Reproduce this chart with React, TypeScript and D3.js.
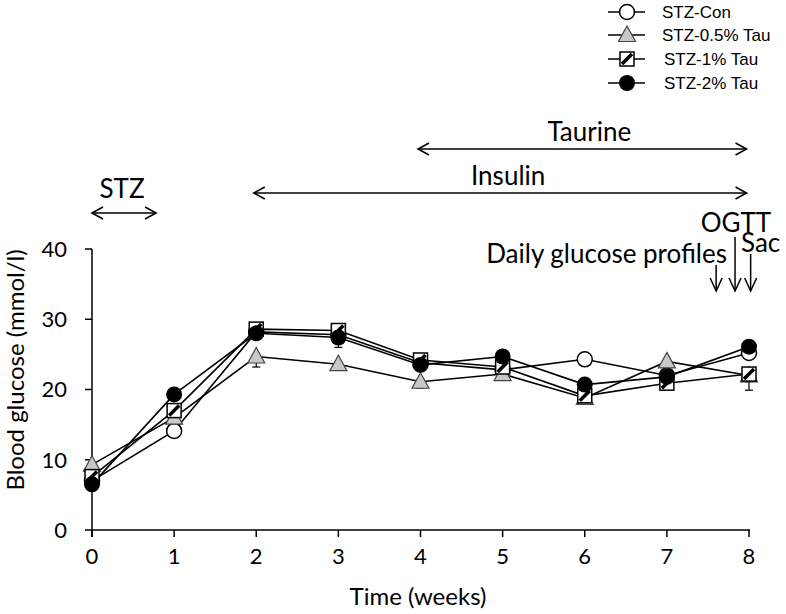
import React from "react";
import * as d3 from "d3";

const weeks = [0, 1, 2, 3, 4, 5, 6, 7, 8];
const seriesNames = ["STZ-Con", "STZ-0.5% Tau", "STZ-1% Tau", "STZ-2% Tau"];
const conValues = [7.0, 14.1, 28.2, 27.8, 23.8, 22.8, 24.3, 22.0, 25.2];
const tau05Values = [9.3, 16.0, 24.7, 23.6, 21.1, 22.2, 18.8, 24.0, 22.0];
const tau1Values = [7.6, 17.0, 28.6, 28.4, 24.2, 23.2, 19.1, 20.9, 22.2];
const tau2Values = [6.5, 19.3, 28.0, 27.4, 23.5, 24.7, 20.7, 21.8, 26.1];
const conErr = [0.6, 0.9, 0.8, 0.9, 0.8, 0.9, 0.9, 0.8, 0.9];
const tau05Err = [0.7, 0.9, 1.5, 0.8, 0.9, 0.8, 0.7, 0.9, 0.9];
const tau1Err = [0.6, 0.9, 0.8, 0.7, 0.8, 0.9, 1.1, 0.8, 2.3];
const tau2Err = [0.6, 0.8, 0.7, 1.4, 0.8, 0.8, 0.8, 0.9, 0.9];
const yTicks = [0, 10, 20, 30, 40];
const xTicks = [0, 1, 2, 3, 4, 5, 6, 7, 8];
const periodLabels = ["STZ", "Insulin", "Taurine"];
const periodStart = [0, 1.97, 3.97];
const periodEnd = [0.78, 7.97, 7.97];
const eventLabels = ["Daily glucose profiles", "OGTT", "Sac"];
const eventWeeks = [7.6, 7.83, 8.02];

const W = 786;
const H = 614;
const FONT = "Lato, 'Open Sans', sans-serif";

function Marker({ kind, x, y }: { kind: number; x: number; y: number }) {
  if (kind === 0)
    return <circle cx={x} cy={y} r={7.5} fill="#fff" stroke="#000" strokeWidth={1.5} />;
  if (kind === 1)
    return (
      <polygon
        points={`${x},${y - 9} ${x + 8.5},${y + 6.5} ${x - 8.5},${y + 6.5}`}
        fill="#c8c8c8"
        stroke="#444"
        strokeWidth={1.2}
      />
    );
  if (kind === 2)
    return (
      <g>
        <rect x={x - 7} y={y - 7} width={14} height={14} fill="#fff" stroke="#000" strokeWidth={1.5} />
        <line x1={x - 5} y1={y + 5} x2={x + 5} y2={y - 5} stroke="#000" strokeWidth={3.5} />
      </g>
    );
  return <circle cx={x} cy={y} r={8} fill="#000" />;
}

export default function App() {
  const x = d3.scaleLinear().domain([0, 8]).range([92, 749]);
  const y = d3.scaleLinear().domain([0, 40]).range([530, 249]);
  const series = [
    { name: seriesNames[0], values: conValues, err: conErr },
    { name: seriesNames[1], values: tau05Values, err: tau05Err },
    { name: seriesNames[2], values: tau1Values, err: tau1Err },
    { name: seriesNames[3], values: tau2Values, err: tau2Err },
  ];
  const line = d3
    .line<number>()
    .x((_, i) => x(weeks[i]))
    .y((d) => y(d));

  const periodY = [213, 193, 149];
  const labelGap = [15, 8, 8];
  const labelShift = [-2, 8, 7];
  const hArrow = (x1: number, x2: number, yy: number, key: string) => (
    <g key={key} stroke="#000" strokeWidth={1.6} fill="none">
      <line x1={x1} y1={yy} x2={x2} y2={yy} />
      <polyline points={`${x1 + 11},${yy - 6} ${x1},${yy} ${x1 + 11},${yy + 6}`} />
      <polyline points={`${x2 - 11},${yy - 6} ${x2},${yy} ${x2 - 11},${yy + 6}`} />
    </g>
  );
  const eventTop = [265, 237, 254];
  const arrowBottom = 291;

  const legendY = [12, 35, 59, 83];

  return (
    <svg width={W} height={H} style={{ position: "absolute", left: 0, top: 0, background: "#fff" }}>
      <rect x={0} y={0} width={W} height={H} fill="#fff" />
      {/* axes */}
      <g stroke="#000" strokeWidth={1.5}>
        <line x1={x(0)} y1={y(0)} x2={x(8) + 1} y2={y(0)} />
        <line x1={x(0)} y1={y(0) + 7} x2={x(0)} y2={y(40)} />
        {yTicks.map((t) => (
          <line key={"yt" + t} x1={x(0) - 7} x2={x(0)} y1={y(t)} y2={y(t)} />
        ))}
        {xTicks.map((t) => (
          <line key={"xt" + t} x1={x(t)} x2={x(t)} y1={y(0)} y2={y(0) + 7} />
        ))}
      </g>
      <g fontFamily={FONT} fontSize={22} fill="#000">
        {yTicks.map((t) => (
          <text key={"yl" + t} x={x(0) - 25} y={y(t)} dy="0.36em" textAnchor="end">
            {t}
          </text>
        ))}
        {xTicks.map((t) => (
          <text key={"xl" + t} x={x(t)} y={564} textAnchor="middle">
            {t}
          </text>
        ))}
      </g>
      <g fontFamily={FONT} fontSize={24} fill="#000">
        <text x={418} y={605} textAnchor="middle">
          Time (weeks)
        </text>
        <text transform={`translate(24,${370}) rotate(-90)`} textAnchor="middle">
          Blood glucose (mmol/l)
        </text>
      </g>
      {/* period annotations */}
      {periodLabels.map((lab, i) => hArrow(x(periodStart[i]), x(periodEnd[i]), periodY[i], "p" + i))}
      <g fontFamily={FONT} fontSize={26} fill="#000" textAnchor="middle">
        {periodLabels.map((lab, i) => (
          <text
            key={"pl" + i}
            x={(x(periodStart[i]) + x(periodEnd[i])) / 2 + labelShift[i]}
            y={periodY[i] - labelGap[i]}
          >
            {lab}
          </text>
        ))}
      </g>
      {/* event arrows */}
      {eventLabels.map((lab, i) => {
        const ex = x(eventWeeks[i]);
        return (
          <g key={"ev" + i} stroke="#000" strokeWidth={1.5} fill="none">
            <line x1={ex} y1={eventTop[i]} x2={ex} y2={arrowBottom} />
            <polyline points={`${ex - 6},${arrowBottom - 13} ${ex},${arrowBottom} ${ex + 6},${arrowBottom - 13}`} />
          </g>
        );
      })}
      <g fontFamily={FONT} fontSize={26} fill="#000">
        <text x={727} y={263} textAnchor="end">
          {eventLabels[0]}
        </text>
        <text x={736} y={232} textAnchor="middle">
          {eventLabels[1]}
        </text>
        <text x={741} y={252}>
          {eventLabels[2]}
        </text>
      </g>
      {/* error bars */}
      {series.map((s, si) => (
        <g key={"e" + si} stroke="#000" strokeWidth={1.2}>
          {s.values.map((v, i) => (
            <g key={i}>
              <line x1={x(weeks[i])} x2={x(weeks[i])} y1={y(v)} y2={y(v - s.err[i])} />
              <line x1={x(weeks[i]) - 4} x2={x(weeks[i]) + 4} y1={y(v - s.err[i])} y2={y(v - s.err[i])} />
            </g>
          ))}
        </g>
      ))}
      {/* lines */}
      {series.map((s, si) => (
        <path key={"l" + si} d={line(s.values) || ""} fill="none" stroke="#000" strokeWidth={1.6} />
      ))}
      {/* markers */}
      {series.map((s, si) => (
        <g key={"m" + si}>
          {s.values.map((v, i) => (
            <Marker key={i} kind={si} x={x(weeks[i])} y={y(v)} />
          ))}
        </g>
      ))}
      {/* legend */}
      {seriesNames.map((n, i) => (
        <g key={"lg" + i}>
          <line x1={608} x2={645} y1={legendY[i]} y2={legendY[i]} stroke="#000" strokeWidth={1.3} />
          <Marker kind={i} x={627} y={legendY[i]} />
          <text
            x={662 + (i >= 2 ? 2 : 0)}
            y={legendY[i]}
            dy="0.36em"
            fontFamily="'Liberation Sans', Arial, sans-serif"
            fontSize={17}
          >
            {n}
          </text>
        </g>
      ))}
    </svg>
  );
}
